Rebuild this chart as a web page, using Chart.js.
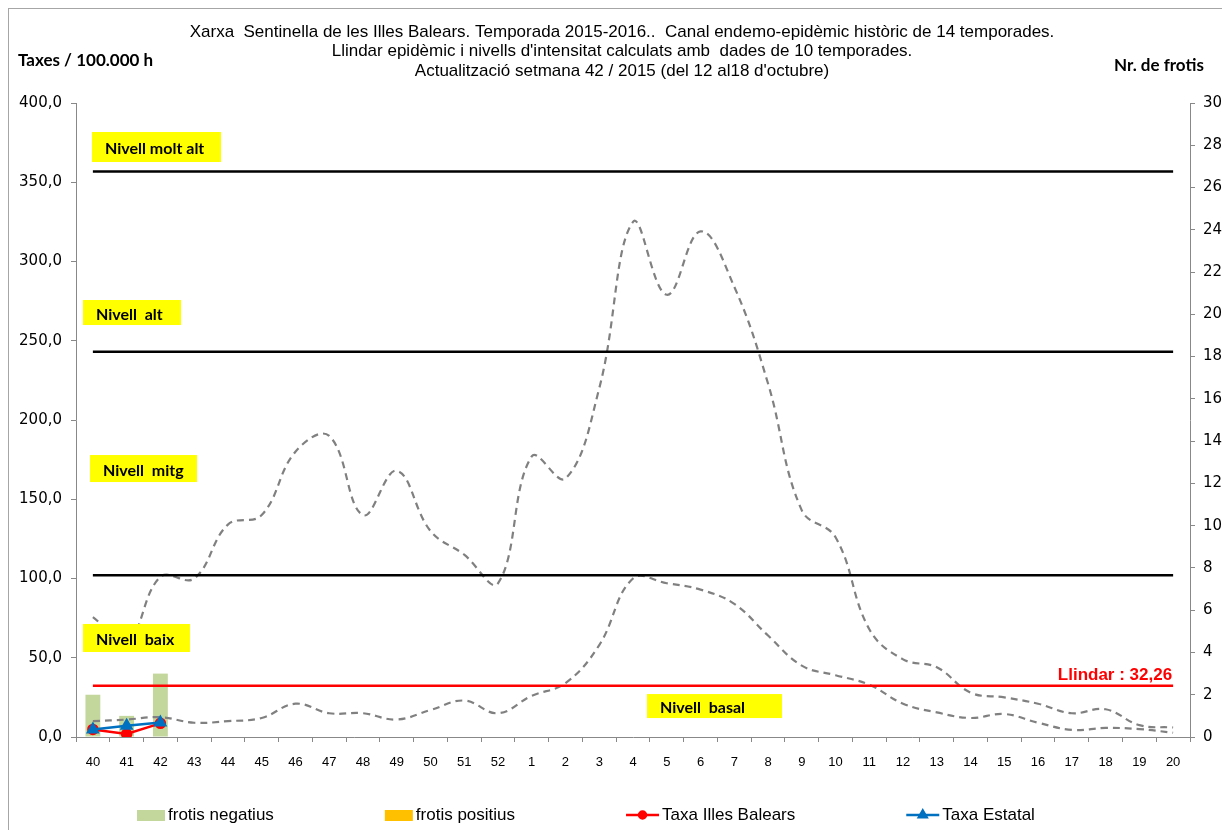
<!DOCTYPE html>
<html>
<head>
<meta charset="utf-8">
<script src="https://cdn.jsdelivr.net/npm/chart.js@4.4.0/dist/chart.umd.min.js"></script>
<style>
  html, body { margin: 0; padding: 0; background: #fff; overflow: hidden; }
  #wrap { position: relative; width: 1240px; height: 830px; }
  #frame { position: absolute; left: 8px; top: 8px; width: 1300px; height: 900px; border: 1px solid #a6a6a6; }
  #myChart { position: absolute; left: 0; top: 0; }
</style>
</head>
<body>
<div id="wrap">
  <div id="frame"></div>
  <canvas id="myChart" width="1240" height="830"></canvas>
</div>
<script>
  // setmanes
  const weeks = ['40','41','42','43','44','45','46','47','48','49','50','51','52',
    '1','2','3','4','5','6','7','8','9','10','11','12','13','14','15','16','17','18','19','20'];

  // canal endemo-epidèmic (taxes / 100.000 h)
  const upperChannel = [75.7, 60, 101, 100, 134, 140, 180, 190, 140, 168, 130, 115, 97,
    177, 163, 220, 325, 279, 319, 284, 223, 143, 126, 68, 49, 44, 28, 25, 21, 15, 17.5, 7.5, 6];
  const lowerChannel = [10, 11, 12.5, 9, 10, 12, 21, 15, 15, 11, 17, 23, 15,
    26, 34, 58, 100, 97, 93, 84, 64, 45, 39, 33, 21, 15.5, 12, 14.5, 9, 4.5, 5.7, 5, 2.7];

  // temporada actual
  const frotisNegatius = [2, 1, 3];
  const frotisPositius = [0, 0, 0];
  const taxaBalears = [4.8, 1.9, 8.6];
  const taxaEstatal = [4.8, 7.1, 9.1];

  // llindars
  const nivellMoltAlt = 356.8;
  const nivellAlt = 243;
  const nivellMitg = 102;
  const llindar = 32.26;

  const titleLines = [
    'Xarxa  Sentinella de les Illes Balears. Temporada 2015-2016..  Canal endemo-epidèmic històric de 14 temporades.',
    'Llindar epidèmic i nivells d\'intensitat calculats amb  dades de 10 temporades.',
    'Actualització setmana 42 / 2015 (del 12 al18 d\'octubre)'
  ];

  const narrow = "'Liberation Sans Narrow', 'Liberation Sans', Arial, sans-serif";
  const calibri = "Lato, 'Open Sans', sans-serif";
  const arial = "'Liberation Sans', Arial, sans-serif";

  const flat = v => weeks.map(() => v);

  // caixes grogues: left (px des de l'eix), top (valor), amplada, alçada
  const levelBoxes = [
    { text: 'Nivell molt alt', left: 16, top: 381.7, w: 129, h: 30 },
    { text: 'Nivell  alt', left: 7, top: 275.7, w: 98, h: 25 },
    { text: 'Nivell  mitg', left: 14, top: 177.9, w: 107, h: 27 },
    { text: 'Nivell  baix', left: 7, top: 71.3, w: 107, h: 28 },
    { text: 'Nivell  basal', left: 571, top: 27.1, w: 135, h: 24 }
  ];

  const legendItems = [
    { label: 'frotis negatius', kind: 'box', color: '#c3d69b' },
    { label: 'frotis positius', kind: 'box', color: '#ffc000' },
    { label: 'Taxa Illes Balears', kind: 'line', color: '#ff0000', point: 'circle' },
    { label: 'Taxa Estatal', kind: 'line', color: '#0070c0', point: 'triangle' }
  ];

  const extras = {
    id: 'extras',
    afterDatasetsDraw(chart) {
      const ctx = chart.ctx;
      const area = chart.chartArea;
      const y = chart.scales.y;
      const x = chart.scales.x;
      ctx.save();

      // caixes de nivell
      levelBoxes.forEach(b => {
        const top = y.getPixelForValue(b.top);
        ctx.fillStyle = '#ffff00';
        ctx.fillRect(area.left + b.left, top, b.w, b.h);
        ctx.fillStyle = '#000';
        ctx.font = 'bold 16px ' + calibri;
        ctx.textBaseline = 'middle';
        ctx.textAlign = 'left';
        ctx.fillText(b.text, area.left + b.left + 13, top + b.h / 2 + 2);
      });

      // llindar
      ctx.fillStyle = '#ff0000';
      ctx.font = 'bold 17px ' + arial;
      ctx.textAlign = 'right';
      ctx.textBaseline = 'alphabetic';
      ctx.fillText('Llindar : 32,26', x.getPixelForValue(weeks.length - 1) - 1, y.getPixelForValue(llindar) - 6);
      ctx.restore();
    },
    afterDraw(chart) {
      const ctx = chart.ctx;
      ctx.save();
      // títol
      ctx.fillStyle = '#000';
      ctx.textAlign = 'center';
      ctx.textBaseline = 'middle';
      ctx.font = '17px ' + narrow;
      titleLines.forEach((t, i) => ctx.fillText(t, 622, 32 + i * 19.5));

      // títols d'eixos
      ctx.font = 'bold 17px ' + calibri;
      ctx.textAlign = 'left';
      ctx.fillText('Taxes / 100.000 h', 18, 61);
      ctx.fillText('Nr. de frotis', 1114, 66);

      // llegenda
      ctx.font = '17px ' + narrow;
      let lx = 137;
      const ly = 815;
      legendItems.forEach(it => {
        if (it.kind === 'box') {
          ctx.fillStyle = it.color;
          ctx.fillRect(lx, ly - 5, 28, 11);
          lx += 31;
        } else {
          ctx.strokeStyle = it.color;
          ctx.lineWidth = 2.5;
          ctx.beginPath();
          ctx.moveTo(lx, ly);
          ctx.lineTo(lx + 33, ly);
          ctx.stroke();
          ctx.fillStyle = it.color;
          Chart.helpers.drawPoint(ctx, { pointStyle: it.point, radius: it.point === 'circle' ? 3.5 : 4.5, rotation: 0, borderWidth: 1 }, lx + 16.5, ly);
          ctx.fill();
          lx += 36;
        }
        ctx.fillStyle = '#000';
        ctx.textAlign = 'left';
        ctx.fillText(it.label, lx, ly);
        lx += ctx.measureText(it.label).width + 111;
      });
      ctx.restore();
    }
  };

  const levelLine = (label, value, color) => ({
    type: 'line', label: label, data: flat(value), yAxisID: 'y',
    borderColor: color, borderWidth: 2.5, pointRadius: 0, order: 3
  });

  const data = {
    labels: weeks,
    datasets: [
      { type: 'bar', label: 'frotis negatius', data: frotisNegatius, yAxisID: 'y1',
        backgroundColor: '#c3d69b', barPercentage: 0.44, categoryPercentage: 1, order: 10 },
      { type: 'bar', label: 'frotis positius', data: frotisPositius, yAxisID: 'y1',
        backgroundColor: '#ffc000', barPercentage: 0.44, categoryPercentage: 1, order: 10 },
      { type: 'line', label: 'superior', data: upperChannel, yAxisID: 'y',
        borderColor: '#808080', borderWidth: 2.2, borderDash: [7, 5], pointRadius: 0, tension: 0.4, order: 4 },
      { type: 'line', label: 'inferior', data: lowerChannel, yAxisID: 'y',
        borderColor: '#808080', borderWidth: 2.2, borderDash: [7, 5], pointRadius: 0, tension: 0.4, order: 4 },
      levelLine('molt alt', nivellMoltAlt, '#000'),
      levelLine('alt', nivellAlt, '#000'),
      levelLine('mitg', nivellMitg, '#000'),
      levelLine('llindar', llindar, '#ff0000'),
      { type: 'line', label: 'Taxa Illes Balears', data: taxaBalears, yAxisID: 'y',
        borderColor: '#ff0000', backgroundColor: '#ff0000', borderWidth: 2.5,
        pointStyle: 'circle', pointRadius: 4.5, order: 2 },
      { type: 'line', label: 'Taxa Estatal', data: taxaEstatal, yAxisID: 'y',
        borderColor: '#0070c0', backgroundColor: '#0070c0', borderWidth: 2.5,
        pointStyle: 'triangle', pointRadius: 5.5, order: 1 }
    ]
  };

  const tickGrid = { display: true, drawOnChartArea: false, drawTicks: true, tickLength: 5, color: '#888' };

  const config = {
    type: 'bar',
    data: data,
    options: {
      responsive: false,
      devicePixelRatio: 1,
      animation: false,
      layout: { padding: { top: 103, bottom: 53, left: 0, right: 0 } },
      plugins: { legend: { display: false }, title: { display: false }, tooltip: { enabled: false } },
      scales: {
        x: {
          stacked: true, offset: true,
          grid: Object.assign({ offset: true }, tickGrid),
          border: { display: true, color: '#888' },
          ticks: { color: '#000', font: { family: narrow, size: 13 }, padding: 13, maxRotation: 0, autoSkip: false },
          afterFit: s => { s.height = 40; }
        },
        y: {
          position: 'left', min: 0, max: 400,
          grid: tickGrid,
          border: { display: true, color: '#888' },
          ticks: { stepSize: 50, color: '#000', padding: 9, font: { family: "'DejaVu Sans', sans-serif", size: 15 },
            callback: v => v.toFixed(1).replace('.', ',') },
          afterFit: s => { s.width = 76; }
        },
        y1: {
          position: 'right', min: 0, max: 30, stacked: true,
          grid: tickGrid,
          border: { display: true, color: '#888' },
          ticks: { stepSize: 2, color: '#000', padding: 8, font: { family: "'DejaVu Sans', sans-serif", size: 15 } },
          afterFit: s => { s.width = 50; }
        }
      }
    },
    plugins: [extras]
  };

  const myChart = new Chart(document.getElementById('myChart'), config);
</script>
</body>
</html>
